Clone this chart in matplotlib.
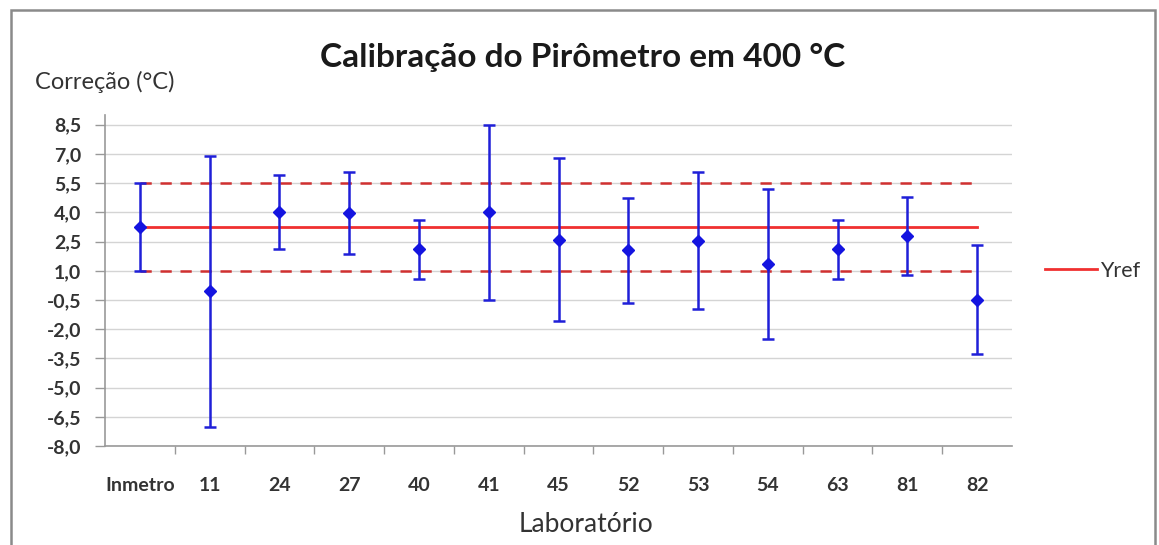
import matplotlib
matplotlib.use("Agg")
import matplotlib.pyplot as plt
from matplotlib.patches import Rectangle
import numpy as np

labs = ['Inmetro', '11', '24', '27', '40', '41', '45', '52', '53', '54', '63', '81', '82']
corr = [3.25, -0.05, 4.0, 3.95, 2.1, 4.0, 2.6, 2.05, 2.55, 1.35, 2.1, 2.8, -0.5]
unc = [2.25, 6.95, 1.9, 2.1, 1.5, 4.5, 4.2, 2.7, 3.5, 3.85, 1.5, 2.0, 2.8]
yref = 3.25
uref = 2.25
yticks = [-8.0, -6.5, -5.0, -3.5, -2.0, -0.5, 1.0, 2.5, 4.0, 5.5, 7.0, 8.5]

plt.rcParams['font.family'] = ['Lato', 'DejaVu Sans']

W, H = 1159, 545
fig = plt.figure(figsize=(W / 100, H / 100), dpi=100)
fig.patch.set_facecolor('white')

# outer chart frame
fig.patches.append(Rectangle((11 / W, -0.02), (1155 - 11) / W, 1 - 10 / H + 0.02,
                             transform=fig.transFigure, fill=False,
                             edgecolor='#8a8a8a', linewidth=1.8, zorder=0))

ax = fig.add_axes([105 / W, 1 - 446 / H, (1012 - 105) / W, (446 - 115) / H])
x = np.arange(len(labs))

ax.set_xlim(-0.5, len(labs) - 0.5)
ax.set_ylim(-8, 9)
ax.set_yticks(yticks)
ax.set_yticklabels([f"{v:.1f}".replace('.', ',') for v in yticks],
                   fontsize=14, fontweight='bold', color='#333333')
ax.yaxis.grid(True, color='#d4d4d4', linewidth=1.0)
ax.set_axisbelow(True)

ax.set_xticks(x)
ax.set_xticklabels(labs, fontsize=14, fontweight='bold', color='#333333')
ax.set_xticks(np.arange(0.5, len(labs) - 0.5, 1), minor=True)
ax.tick_params(axis='x', which='major', length=0, pad=22)
ax.tick_params(axis='x', which='minor', length=6, color='#999999', width=1)
ax.tick_params(axis='y', length=7, color='#999999', width=1, pad=10)

for s in ['top', 'right']:
    ax.spines[s].set_visible(False)
for s in ['left', 'bottom']:
    ax.spines[s].set_color('#999999')
    ax.spines[s].set_linewidth(1.2)

# reference lines
ax.plot(x, [yref + uref] * len(x), color='#d03030', linewidth=1.8,
        dashes=(4.5, 3.5), zorder=2)
ax.plot(x, [yref - uref] * len(x), color='#d03030', linewidth=1.8,
        dashes=(4.5, 3.5), zorder=2)
ax.plot(x, [yref] * len(x), color='#f03030', linewidth=2.0, zorder=3, label='Yref')

# error bars
ax.errorbar(x, corr, yerr=unc, fmt='D', color='#1414e0', ecolor='#1f1fd8',
            markersize=6, elinewidth=1.8, capsize=4.5, capthick=1.8, zorder=4)

fig.text(583 / W, 1 - 57 / H, 'Calibração do Pirômetro em 400 °C',
         ha='center', va='center', fontsize=24, fontweight='bold', color='#1a1a1a')
fig.text(35 / W, 1 - 82 / H, 'Correção (°C)', ha='left', va='center',
         fontsize=17, color='#333333')
fig.text(586 / W, 1 - 524 / H, 'Laboratório', ha='center', va='center',
         fontsize=19, color='#333333')

leg = fig.legend(handles=[ax.lines[2]], labels=['Yref'], loc='center left',
                 bbox_to_anchor=(1045 / W, 1 - 271 / H), frameon=False,
                 borderpad=0, borderaxespad=0, handlelength=2.4, handletextpad=0.15,
                 fontsize=15.5)
for t in leg.get_texts():
    t.set_color('#333333')

fig.savefig('out.png', dpi=100)
